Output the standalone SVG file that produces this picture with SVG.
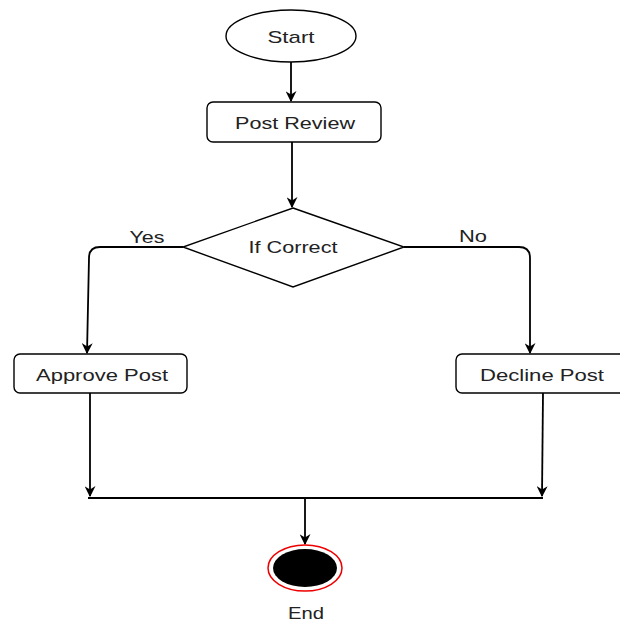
<svg xmlns="http://www.w3.org/2000/svg" width="620" height="625" viewBox="0 0 620 625">
<defs>
<marker id="arr" viewBox="0 0 10 10" refX="9" refY="5" markerWidth="11" markerHeight="11" markerUnits="userSpaceOnUse" orient="auto">
<path d="M0,0 L10,5 L0,10 L3,5 Z" fill="#000"/>
</marker>
</defs>
<style>
.shape{fill:#fff;stroke:#000;stroke-width:1.4}
.t{font-family:"Liberation Sans",Arial,sans-serif;font-size:17px;fill:#222;text-anchor:middle}
.c{fill:none;stroke:#000;stroke-width:1.8}
</style>
<rect width="620" height="625" fill="#fff"/>
<g id="connectors">
<path class="c" d="M291,62 L291,101" marker-end="url(#arr)"/>
<path class="c" d="M292,142 L292,207" marker-end="url(#arr)"/>
<path class="c" d="M183,247 L100,247 Q89,247 89,258 L87,353" marker-end="url(#arr)"/>
<path class="c" d="M404,247 L519,247 Q530,247 530,258 L530,353" marker-end="url(#arr)"/>
<path class="c" d="M90,393 L90,496" marker-end="url(#arr)"/>
<path class="c" d="M543,393 L542,496" marker-end="url(#arr)"/>
<path class="c" d="M88,498 L543,498"/>
<path class="c" d="M305,499 L305,544" marker-end="url(#arr)"/>
</g>
<g id="start">
<ellipse class="shape" cx="291" cy="36" rx="65" ry="26"/>
<text class="t" x="291" y="43" textLength="47" lengthAdjust="spacingAndGlyphs">Start</text>
</g>
<g id="post-review">
<rect class="shape" x="207" y="102" width="174" height="40" rx="6"/>
<text class="t" x="295" y="129" textLength="120" lengthAdjust="spacingAndGlyphs">Post Review</text>
</g>
<g id="if-correct">
<path class="shape" d="M293,208 L404,247 L293,287 L183,247 Z"/>
<text class="t" x="293" y="253" textLength="89" lengthAdjust="spacingAndGlyphs">If Correct</text>
</g>
<g id="yes-label"><text class="t" x="147" y="243" textLength="35" lengthAdjust="spacingAndGlyphs">Yes</text></g>
<g id="no-label"><text class="t" x="473" y="242" textLength="28" lengthAdjust="spacingAndGlyphs">No</text></g>
<g id="approve-post">
<rect class="shape" x="14" y="354" width="173" height="39" rx="6"/>
<text class="t" x="102" y="381" textLength="132" lengthAdjust="spacingAndGlyphs">Approve Post</text>
</g>
<g id="decline-post">
<rect class="shape" x="456" y="354" width="172" height="39" rx="6"/>
<text class="t" x="542" y="381" textLength="124" lengthAdjust="spacingAndGlyphs">Decline Post</text>
</g>
<g id="end">
<ellipse cx="305" cy="568" rx="37" ry="23" fill="#fff" stroke="#e00" stroke-width="1.5"/>
<ellipse cx="305" cy="568" rx="32" ry="19" fill="#000"/>
<text class="t" x="306" y="619" textLength="36" lengthAdjust="spacingAndGlyphs">End</text>
</g>
</svg>
